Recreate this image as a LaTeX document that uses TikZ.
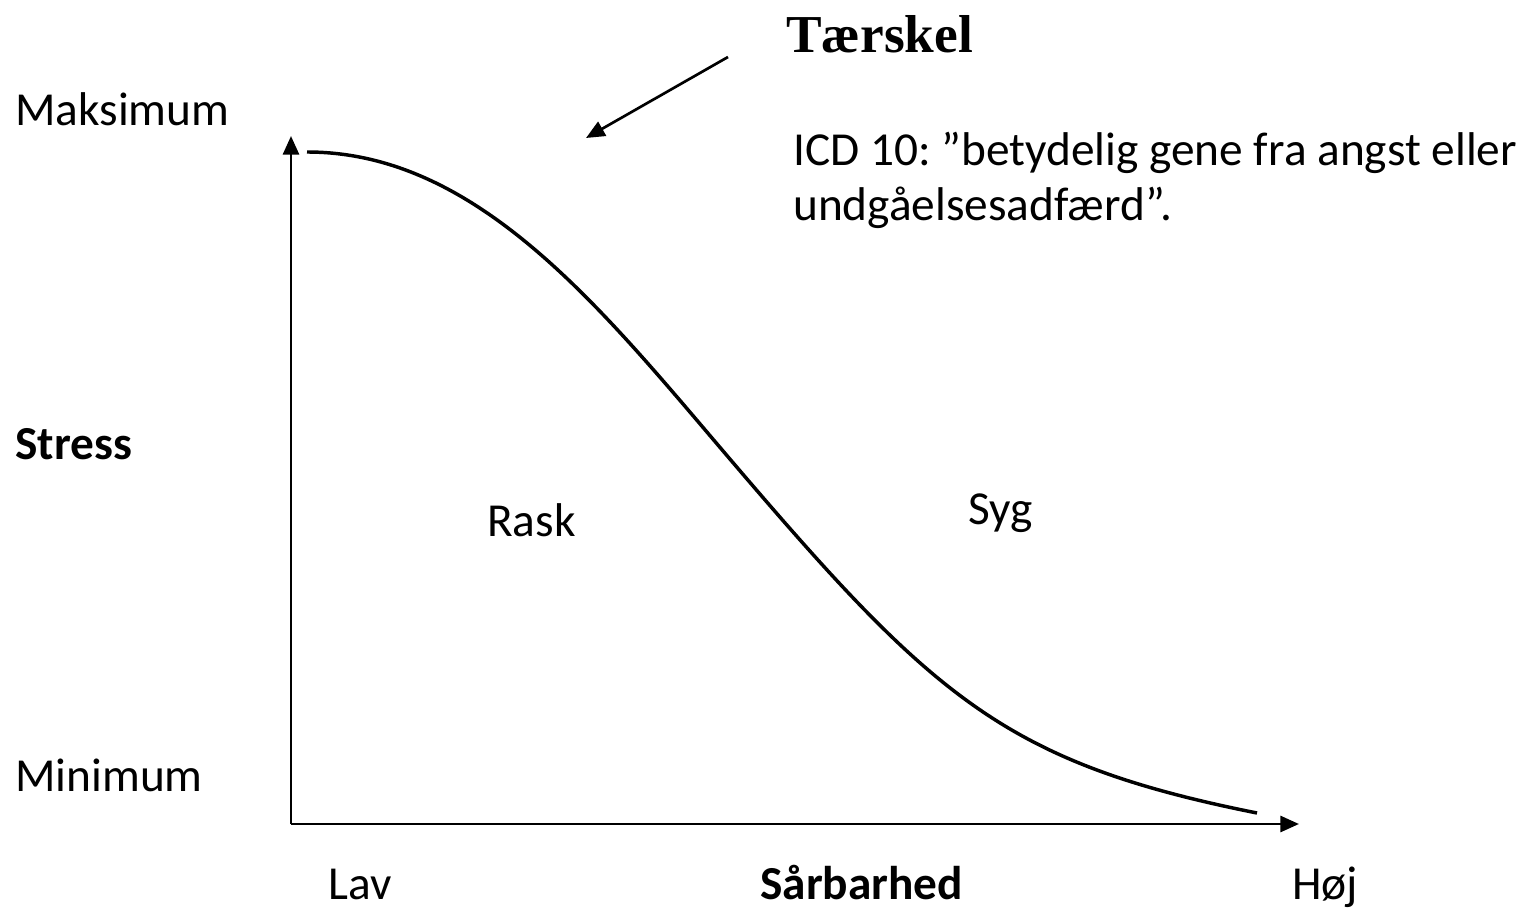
\documentclass[tikz,border=0pt]{standalone}
\usepackage{fontspec}
\setmainfont{Carlito}
\newfontfamily\titlefont{Liberation Serif}
\usetikzlibrary{arrows.meta}
\frenchspacing

\tikzset{
  lbl/.style={anchor=base west, inner sep=0pt, font=\fontsize{35.5}{42}\selectfont},
  axis/.style={line width=2.2pt, -{Triangle[length=14pt,width=12pt]}},
}

\begin{document}
\begin{tikzpicture}[x=0.75pt,y=-0.75pt]
    \useasboundingbox (0,0) rectangle (1538,909);
    % axes
    \coordinate (O) at (291,824);
    \coordinate (ytop) at (291,136);
    \coordinate (xend) at (1299,824);
    \draw[axis] (O) -- (ytop);
    \draw[axis] (O) -- (xend);
    % curve
    \coordinate (cstart) at (307,152);
    \coordinate (cmid) at (735,465);
    \coordinate (cend) at (1257,813);
    \draw[line width=2.6pt] (cstart) .. controls (480,152) and (605,313) .. (cmid)
      .. controls (935,699) and (1007,763) .. (cend);
    % labels
    \node[lbl] (max) at (15,126) {Maksimum};
    \node[lbl] (stress) at (15,459) {\bfseries Stress};
    \node[lbl] (min) at (15,791) {Minimum};
    \node[lbl] (lav) at (328,899) {Lav};
    \node[lbl] (sar) at (760,899) {\bfseries Sårbarhed};
    \node[lbl] (hoj) at (1292,899) {Høj};
    \node[lbl] (rask) at (487,536) {Rask};
    \node[lbl] (syg) at (968,524) {Syg};
    \node[lbl] (icd1) at (793,166) {ICD 10: ”betydelig gene fra angst eller};
    \node[lbl] (icd2) at (793,221) {undgåelsesadfærd”.};
    \node[anchor=base west, inner sep=0pt, font=\titlefont\bfseries\fontsize{40}{48}\selectfont]
      (tarskel) at (786,53) {Tærskel};
    % arrow to threshold
    \coordinate (atail) at (728,57);
    \coordinate (ahead) at (586,138);
    \draw[line width=2pt, -{Triangle[length=14pt,width=12pt]}] (atail) -- (ahead);
\end{tikzpicture}
\end{document}
